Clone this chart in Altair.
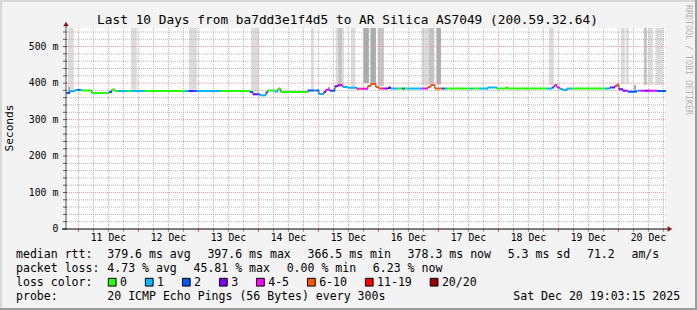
import altair as alt
import pandas as pd

# ---------------- data (x = hours since 10 Dec 2025 00:00, y = ms) ----------------
END_HOUR = 259.05
START_HOUR = 19.05

seg_start = [19.05, 20.6, 22.6, 23.8, 24.6, 25.4, 29.4, 36.2, 37.4, 38.6, 39.8, 43.4, 45.0, 50.6,
             66.6, 68.2, 70.2, 71.4, 81.0, 92.6, 93.8, 95.8, 96.6, 99.0, 99.8, 102.6, 103.8, 105.0,
             115.8, 118.2, 119.0, 120.2, 122.2, 123.0, 124.6, 126.6, 127.8, 129.0, 129.8, 131.8,
             135.4, 136.2, 137.0, 139.8, 141.0, 143.0, 144.2, 145.4, 146.6, 147.8, 149.0, 151.8,
             153.4, 154.6, 155.8, 161.4, 163.8, 165.0, 166.6, 169.4, 170.6, 171.4, 180.6, 181.8,
             184.6, 187.8, 191.4, 195.0, 195.8, 211.4, 213.4, 214.2, 214.6, 215.4, 216.6, 217.8,
             219.4, 221.4, 234.6, 236.6, 237.4, 238.6, 239.4, 240.2, 241.8, 243.0, 243.8, 247.4,
             248.6, 250.6, 252.6, 255.4]
seg_ms = [372.8, 378.3, 381.0, 381.0, 381.0, 379.7, 372.8, 375.5, 382.4, 378.3, 378.3, 378.3, 378.3, 378.3,
          378.3, 378.3, 378.3, 378.3, 378.3, 375.5, 369.2, 369.2, 366.5, 374.2, 379.7, 376.9, 383.8, 375.5,
          379.7, 379.7, 379.7, 370.1, 375.5, 381.9, 379.1, 391.2, 393.9, 393.9, 389.3, 387.3,
          384.6, 384.6, 384.6, 392.0, 397.6, 389.3, 385.1, 385.1, 385.1, 386.5, 385.1, 385.1,
          385.1, 385.1, 385.1, 385.1, 389.3, 394.7, 385.1, 385.1, 385.1, 385.1, 385.1, 385.1,
          385.1, 387.9, 385.1, 387.9, 385.1, 385.1, 387.9, 392.0, 394.7, 387.9, 383.8, 381.0,
          385.1, 385.1, 385.1, 387.9, 387.9, 392.0, 396.1, 383.0, 379.1, 379.1, 376.4, 379.1,
          379.1, 379.1, 379.1, 378.3]
seg_loss = [2, 1, 1, 2, 1, 0, 0, 2, 0, 0, 1, 0, 1, 0,
            1, 3, 2, 1, 0, 2, 3, 2, 1, 2, 0, 1, 0, 0,
            2, 1, 2, 1, 3, 4, 2, 3, 3, 4, 1, 1,
            4, 5, 4, 5, 5, 5, 5, 4, 3, 3, 1, 0,
            2, 0, 1, 4, 5, 5, 5, 2, 1, 0, 1, 0,
            1, 1, 0, 0, 0, 1, 2, 3, 4, 4, 1, 1,
            1, 0, 1, 2, 3, 4, 5, 3, 3, 4, 2, 1,
            4, 3, 4, 2]

smoke_start = [19.8, 45.0, 68.2, 93.0, 117.0, 127.0, 128.0, 133.0, 138.0, 140.8, 143.8, 161.2, 164.2,
               167.2, 212.2, 241.0, 243.0, 250.2, 252.0, 254.8,
               20.0, 104.0, 124.0, 148.2, 195.0, 246.4]
smoke_end = [22.2, 47.4, 71.4, 96.2, 118.2, 130.2, 129.4, 134.8, 140.2, 143.0, 146.2, 164.6, 166.4,
             169.0, 214.2, 242.6, 244.2, 251.4, 253.8, 257.8,
             20.6, 104.6, 124.6, 149.0, 195.6, 247.0]
smoke_low = [382.4, 382.4, 382.4, 374.2, 382.4, 393.4, 393.4, 389.3, 400.2, 400.2, 392.0, 394.7, 396.1,
             396.1, 394.7, 397.0, 397.0, 394.7, 394.7, 394.7,
             372.8, 381.0, 381.0, 385.1, 385.1, 376.4]
smoke_high = [560] * 20 + [389.3, 387.9, 389.3, 392.0, 389.3, 394.7]
smoke_shade = ["light", "light", "light", "light", "light", "light", "medium", "light", "dark", "dark",
               "medium", "light", "medium", "dark", "light", "light", "light", "medium", "light", "light",
               "spike", "spike", "spike", "spike", "spike", "spike"]

day_hours = [36, 60, 84, 108, 132, 156, 180, 204, 228, 252]
day_labels = ["11 Dec", "12 Dec", "13 Dec", "14 Dec", "15 Dec", "16 Dec", "17 Dec", "18 Dec",
              "19 Dec", "20 Dec"]
y_tick_values = [0, 100, 200, 300, 400, 500]
y_tick_labels = ["0", "100 m", "200 m", "300 m", "400 m", "500 m"]

loss_names = ["0", "1", "2", "3", "4-5", "6-10", "11-19", "20/20"]
loss_colors = ["#26ff00", "#00b8ff", "#0059ff", "#7e00ff", "#ff00ff", "#ff5500", "#ff0000", "#a10000"]

title_text = "Last 10 Days from ba7dd3e1f4d5 to AR Silica AS7049 (200.59.32.64)"
row1 = ["379.6 ms avg", "397.6 ms max", "366.5 ms min", "378.3 ms now", "5.3 ms sd", "71.2", " am/s"]
row2 = ["4.73 % avg", "45.81 % max", "0.00 % min", "6.23 % now"]
probe_text = "20 ICMP Echo Pings (56 Bytes) every 300s"
date_text = "Sat Dec 20 19:03:15 2025"

# ---------------- layout ----------------
FONT = "DejaVu Sans Mono"
W, H = 600, 201
PL, PT = 66, 28
CW = 6.95     # monospace advance at 11.55px
GAP = 16.7

x_scale = alt.Scale(domain=[START_HOUR, END_HOUR], nice=False, zero=False)
y_scale = alt.Scale(domain=[0, 551], nice=False, zero=False)


def X(f):
    return alt.X(f, type="quantitative", scale=x_scale, axis=None)


def Y(f):
    return alt.Y(f, type="quantitative", scale=y_scale, axis=None)


one = pd.DataFrame({"a": [0]})

segs = pd.DataFrame({"start": seg_start, "end": seg_start[1:] + [END_HOUR], "ms": seg_ms,
                     "loss": [loss_names[i] for i in seg_loss]})
steps = pd.DataFrame({"h": seg_start + [END_HOUR], "ms": seg_ms + [seg_ms[-1]]})
smoke = pd.DataFrame({"s": smoke_start, "e": smoke_end, "lo": smoke_low, "hi": smoke_high,
                      "shade": smoke_shade})

hours_all = [h for h in range(24, 259, 6)]
v_major = pd.DataFrame({"h": [h for h in hours_all if h % 24 == 0]})
v_minor = pd.DataFrame({"h": [h for h in hours_all if h % 24 != 0]})
h_major = pd.DataFrame({"v": [v for v in range(100, 551, 100)]})
h_minor = pd.DataFrame({"v": [v for v in range(20, 551, 20) if v % 100]})
y_ticks = pd.DataFrame({"v": list(range(0, 551, 20))})
days = pd.DataFrame({"h": day_hours, "t": day_labels})
ylabs = pd.DataFrame({"v": y_tick_values, "t": y_tick_labels})

layers = []

# smoke (fill channel, its own scale)
layers.append(alt.Chart(smoke).mark_rect(clip=True).encode(
    x=X("s"), x2="e", y=Y("lo"), y2="hi",
    fill=alt.Fill("shade:N", scale=alt.Scale(domain=["light", "medium", "dark", "spike"],
                                             range=["#dcdcdc", "#c4c4c4", "#aaaaaa", "#909090"]),
                  legend=None)))

# grid
GRID_MINOR = "#b4b4b4"
GRID_MAJOR = "#f59a9a"
layers.append(alt.Chart(v_minor).mark_rule(color=GRID_MINOR, strokeDash=[1, 1], strokeWidth=1).encode(
    x=X("h")))
layers.append(alt.Chart(h_minor).mark_rule(color=GRID_MINOR, strokeDash=[1, 1], strokeWidth=1).encode(
    y=Y("v")))
layers.append(alt.Chart(v_major).mark_rule(color=GRID_MAJOR, strokeDash=[1, 1], strokeWidth=1).encode(
    x=X("h")))
layers.append(alt.Chart(h_major).mark_rule(color=GRID_MAJOR, strokeDash=[1, 1], strokeWidth=1).encode(
    y=Y("v")))

# median line
layers.append(alt.Chart(steps).mark_line(interpolate="step-after", color="#333333", strokeWidth=1).encode(
    x=X("h"), y=Y("ms")))
layers.append(alt.Chart(segs).mark_rule(strokeWidth=2, strokeCap="butt").encode(
    x=X("start"), x2="end", y=Y("ms"),
    stroke=alt.Stroke("loss:N", scale=alt.Scale(domain=loss_names, range=loss_colors), legend=None)))

# axes
layers.append(alt.Chart(y_ticks).mark_rule(color="#555555").encode(
    y=Y("v"), x=alt.value(-3), x2=alt.value(1)))
layers.append(alt.Chart(v_minor).mark_rule(color="#999999").encode(
    x=X("h"), y=alt.value(H), y2=alt.value(H + 3)))
layers.append(alt.Chart(v_major).mark_rule(color="#f06060").encode(
    x=X("h"), y=alt.value(H), y2=alt.value(H + 3)))
layers.append(alt.Chart(one).mark_rule(color="#555555").encode(
    x=alt.value(0), y=alt.value(-5), y2=alt.value(H)))
layers.append(alt.Chart(one).mark_rule(color="#000000").encode(
    y=alt.value(H), x=alt.value(-4), x2=alt.value(W + 4)))
layers.append(alt.Chart(one).mark_point(shape="triangle-up", filled=True, color="#8b1a1a", size=30,
                                        opacity=1).encode(x=alt.value(0), y=alt.value(-4)))
layers.append(alt.Chart(one).mark_point(shape="triangle-right", filled=True, color="#8b1a1a", size=30,
                                        opacity=1).encode(x=alt.value(W + 4), y=alt.value(H)))

# axis labels
layers.append(alt.Chart(days).mark_text(font=FONT, fontSize=9.8, align="center", baseline="alphabetic",
                                        color="#000000").encode(
    x=X("h"), y=alt.value(240.7 - PT), text="t:N"))
layers.append(alt.Chart(ylabs).mark_text(font=FONT, fontSize=9.8, align="right", baseline="middle",
                                         color="#000000").encode(
    y=Y("v"), x=alt.value(58.3 - PL), text="t:N"))


def txt(s, x, y, size=11.55, align="left", baseline="alphabetic", color="#000000", angle=0):
    kw = dict(font=FONT, fontSize=size, align=align, baseline=baseline, color=color)
    if angle:
        kw["angle"] = angle
    return alt.Chart(one).mark_text(**kw).encode(
        x=alt.value(x - PL), y=alt.value(y - PT), text=alt.value(s))


layers.append(txt(title_text, 347.5, 24, size=12.8, align="center"))
layers.append(txt("Seconds", 10, 128, size=11.2, align="center", baseline="middle", angle=270))
layers.append(txt("RRDTOOL / TOBI OETIKER", 688, 5, size=8.3, baseline="middle", color="#b4b4b4",
                  angle=90))

# legend rows
B1, B2, B3, B4 = 257.7, 271.7, 285.7, 299.5
layers.append(txt("median rtt:", 16, B1))
x = 107.3
for s in row1:
    layers.append(txt(s, x, B1))
    x += len(s) * CW + GAP
layers.append(txt("packet loss:", 16, B2))
x = 107.3
for s in row2:
    layers.append(txt(s, x, B2))
    x += len(s) * CW + GAP
layers.append(txt("loss color:", 16, B3))
x = 108.3
for name, col in zip(loss_names, loss_colors):
    layers.append(alt.Chart(one).mark_square(size=60, filled=True, fill=col, stroke="#000000",
                                             strokeWidth=1, opacity=1).encode(
        x=alt.value(x + 3.9 - PL), y=alt.value(282.2 - PT)))
    layers.append(txt(name, x + 11.7, B3))
    x += 11.7 + len(name) * CW + 18.4
layers.append(txt("probe:", 16, B4))
layers.append(txt(probe_text, 107.3, B4))
layers.append(txt(date_text, 513.3, B4))

# frame
layers.append(alt.Chart(one).mark_rule(color="#d8d8d8", strokeWidth=2).encode(
    x=alt.value(-PL), x2=alt.value(697 - PL), y=alt.value(-PT + 1)))
layers.append(alt.Chart(one).mark_rule(color="#d8d8d8", strokeWidth=2).encode(
    y=alt.value(-PT), y2=alt.value(310 - PT), x=alt.value(-PL + 1)))
layers.append(alt.Chart(one).mark_rule(color="#9c9c9c", strokeWidth=2).encode(
    x=alt.value(-PL), x2=alt.value(697 - PL), y=alt.value(310 - PT - 1)))
layers.append(alt.Chart(one).mark_rule(color="#9c9c9c", strokeWidth=2).encode(
    y=alt.value(-PT), y2=alt.value(310 - PT), x=alt.value(697 - PL - 1)))

chart = alt.layer(*layers).resolve_scale(fill="independent", stroke="independent").properties(
    width=W, height=H,
    autosize=alt.AutoSizeParams(type="none"),
    padding={"left": PL, "top": PT, "right": 697 - PL - W, "bottom": 310 - PT - H},
    background="#f3f3f3",
).configure_view(fill="#ffffff", stroke=None)

chart.save("out.html", embed_options={"renderer": "svg", "actions": False})
